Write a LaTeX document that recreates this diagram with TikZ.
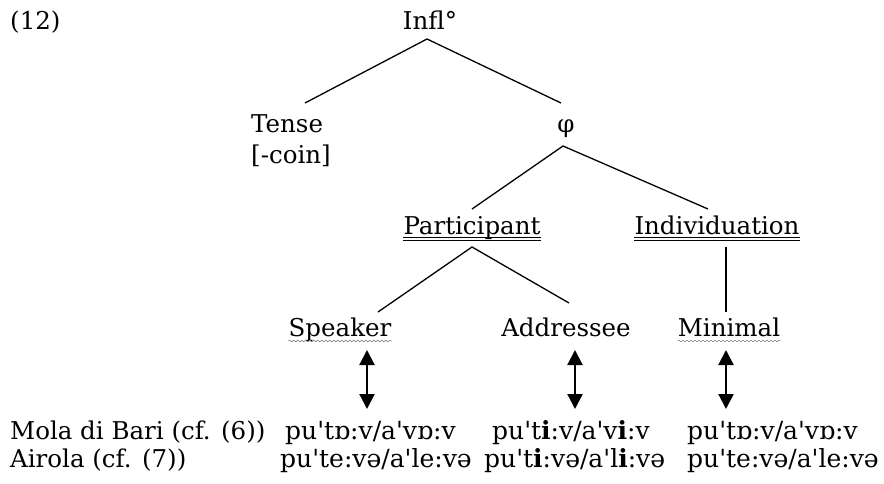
\documentclass[tikz,border=0pt]{standalone}
\usepackage{fontspec}
\setmainfont{DejaVu Serif}
\usetikzlibrary{arrows.meta,decorations.pathmorphing}
\newcommand{\ap}{\textquotesingle}

\begin{document}
\begin{tikzpicture}[x=1pt,y=-1pt,
        lbl/.style={inner sep=0pt,anchor=base,font=\fontsize{24.5}{28}\selectfont},
        row/.style={inner sep=0pt,anchor=base west,font=\fontsize{24.5}{28}\selectfont},
        form/.style={inner sep=0pt,anchor=base west,font=\fontsize{25}{28}\selectfont},
        branch/.style={line width=1.3pt},
        dbl line/.style={line width=0.8pt},
        wavy line/.style={gray,line width=0.6pt,decorate,
          decoration={snake,amplitude=0.8pt,segment length=4pt}},
        updown/.style={line width=2.2pt,
          {Triangle[width=15pt,length=15pt]}-{Triangle[width=15pt,length=15pt]}}]
        \useasboundingbox (0,0) rectangle (884,484);

        % tree
        \node[lbl,anchor=base west] (ex)    at (10,30)   {(12)};
        \node[lbl]                  (infl)  at (430,30)  {Infl°};
        \node[lbl,anchor=base west] (tense) at (251,133) {Tense};
        \node[lbl,anchor=base west] (coin)  at (251,164) {[-coin]};
        \node[lbl]                  (phi)   at (566,133) {φ};
        \node[lbl]                  (part)  at (472,234) {Participant};
        \node[lbl]                  (indiv) at (717,234) {Individuation};
        \node[lbl]                  (spk)   at (340,336) {Speaker};
        \node[lbl]                  (addr)  at (566,336) {Addressee};
        \node[lbl]                  (mini)  at (729,336) {Minimal};

        \draw[branch] ([xshift=54pt,yshift=30pt]tense.base west)
          -- ([xshift=-3pt,yshift=-9pt]infl.base) -- ([xshift=-5pt,yshift=30pt]phi.base);
        \draw[branch] ([yshift=25pt]part.base)
          -- ([xshift=-3pt,yshift=-13pt]phi.base) -- ([xshift=-9pt,yshift=25pt]indiv.base);
        \draw[branch] ([xshift=38pt,yshift=24pt]spk.base)
          -- ([yshift=-13pt]part.base) -- ([xshift=3pt,yshift=33pt]addr.base);
        \draw[branch] ([xshift=9pt,yshift=-13pt]indiv.base) -- ([xshift=-3pt,yshift=24pt]mini.base);

        % underlines
        \foreach \n in {part,indiv}{
          \draw[dbl line] ([yshift=-3pt]\n.base west) -- ([yshift=-3pt]\n.base east);
          \draw[dbl line] ([yshift=-6pt]\n.base west) -- ([yshift=-6pt]\n.base east);
        }
        \foreach \n in {spk,mini}
          \draw[wavy line] ([yshift=-5pt]\n.base west) -- ([yshift=-5pt]\n.base east);

        % arrows
        \draw[updown] ([xshift=27pt,yshift=-14pt]spk.base) -- +(0,59);
        \draw[updown] ([xshift=9pt,yshift=-14pt]addr.base) -- +(0,59);
        \draw[updown] ([xshift=-3pt,yshift=-14pt]mini.base) -- +(0,59);

        % data rows
        \node[row]  (mola)   at (10,439)  {Mola di Bari (cf. (6))};
        \node[row]  (airola) at (10,467)  {Airola (cf. (7))};
        \node[form] (f11) at (285,439) {pu\ap tɒ:v/a\ap vɒ:v};
        \node[form] (f12) at (492,439) {pu\ap t\textbf{i}:v/a\ap v\textbf{i}:v};
        \node[form] (f13) at (687,439) {pu\ap tɒ:v/a\ap vɒ:v};
        \node[form] (f21) at (280,467) {pu\ap te:və/a\ap le:və};
        \node[form] (f22) at (484,467) {pu\ap t\textbf{i}:və/a\ap l\textbf{i}:və};
        \node[form] (f23) at (687,467) {pu\ap te:və/a\ap le:və};
\end{tikzpicture}
\end{document}
